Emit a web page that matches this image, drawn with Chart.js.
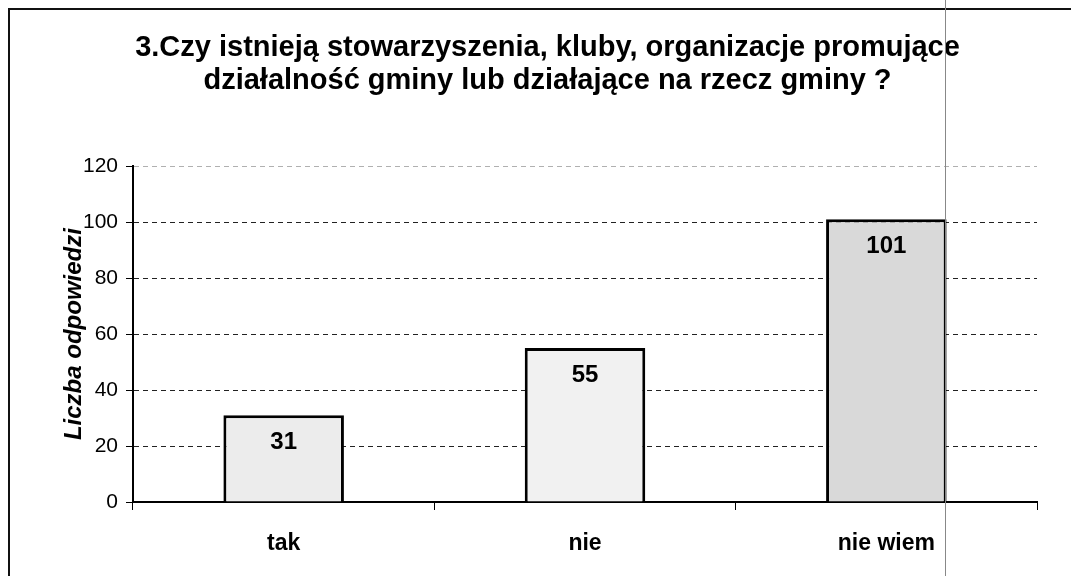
<!DOCTYPE html>
<html>
<head>
<meta charset="utf-8">
<script src="https://cdn.jsdelivr.net/npm/chart.js@4"></script>
<style>
  body { margin: 0; background: #fff; }
  #wrap { position: relative; width: 1071px; height: 576px; }
  #frameTop { position: absolute; left: 8px; top: 8px; right: 0; height: 2px; background: #111; }
  #frameLeft { position: absolute; left: 8px; top: 8px; bottom: 0; width: 2px; background: #111; }
  #scanLine { position: absolute; left: 945px; top: 0; bottom: 0; width: 1px; background: #888; }
  canvas { position: absolute; left: 0; top: 0; }
</style>
</head>
<body>
<div id="wrap">
  <canvas id="myChart" width="1071" height="576"></canvas>
  <div id="frameTop"></div>
  <div id="frameLeft"></div>
  <div id="scanLine"></div>
</div>
<script>
const categories = ["tak", "nie", "nie wiem"];
const answers = [31, 55, 101];
const yTicks = [0, 20, 40, 60, 80, 100, 120];

const titleLines = [
    "3.Czy istnieją stowarzyszenia, kluby, organizacje promujące",
    "działalność gminy lub działające na rzecz gminy ?"
];

// labels with the value inside the top of each bar
const valueLabels = {
    id: "valueLabels",
    afterDatasetsDraw(chart) {
        const ctx = chart.ctx;
        const meta = chart.getDatasetMeta(0);
        ctx.save();
        ctx.font = "bold 24px 'Liberation Sans', Arial, sans-serif";
        ctx.fillStyle = "#000";
        ctx.textAlign = "center";
        ctx.textBaseline = "middle";
        meta.data.forEach(function(bar, i) {
            ctx.fillText(String(answers[i]), bar.x, bar.y + 27);
        });
        ctx.restore();
    }
};

const ctx = document.getElementById("myChart");

new Chart(ctx, {
    type: "bar",
    data: {
        labels: categories,
        datasets: [{
            data: answers,
            backgroundColor: ["#ececec", "#f1f1f1", "#d9d9d9"],
            borderColor: "#000",
            borderWidth: 3,
            barPercentage: 0.4,
            categoryPercentage: 1
        }]
    },
    options: {
        responsive: false,
        animation: false,
        layout: {padding: {left: 58, right: 34, top: 0, bottom: 0}},
        plugins: {
            legend: {display: false},
            tooltip: {enabled: false},
            title: {
                display: true,
                text: titleLines,
                color: "#000",
                font: {family: "'Liberation Sans', Arial, sans-serif", size: 29, weight: "bold", lineHeight: 1.14},
                padding: {top: 31, bottom: 69}
            }
        },
        scales: {
            x: {
                afterFit(scale) { scale.height = 74; },
                grid: {
                    offset: true,
                    drawOnChartArea: false,
                    drawTicks: true,
                    tickLength: 8,
                    color: "#000"
                },
                border: {display: true, color: "#000", width: 2},
                ticks: {
                    color: "#000",
                    padding: 20,
                    font: {family: "'Liberation Sans', Arial, sans-serif", size: 23, weight: "bold"}
                }
            },
            y: {
                min: 0,
                max: 120,
                afterFit(scale) { scale.width = 75; },
                afterBuildTicks(scale) {
                    scale.ticks = yTicks.map(v => ({value: v}));
                },
                grid: {
                    color: c => (c.tick && c.tick.value === 120) ? "#b0b0b0" : "#222",
                    lineWidth: 1,
                    tickLength: 7,
                    tickColor: "#000",
                    tickBorderDash: []
                },
                border: {display: true, color: "#000", width: 2, dash: [5, 4]},
                ticks: {
                    color: "#000",
                    padding: 8,
                    font: {family: "'Liberation Sans', Arial, sans-serif", size: 21}
                },
                title: {
                    display: true,
                    text: "Liczba odpowiedzi",
                    color: "#000",
                    font: {family: "'Liberation Sans', Arial, sans-serif", size: 24, weight: "bold", style: "italic"},
                    padding: {top: 2, bottom: 0}
                }
            }
        }
    },
    plugins: [valueLabels]
});
</script>
</body>
</html>
